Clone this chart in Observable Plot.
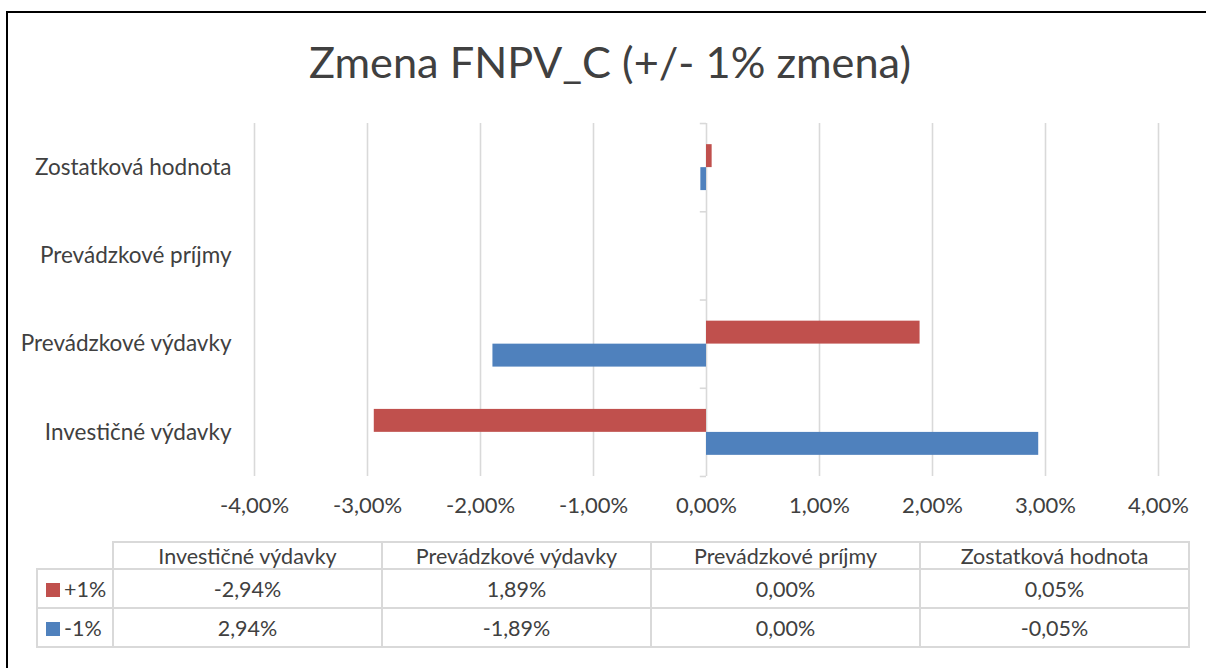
<!DOCTYPE html>
<html>
<head>
<meta charset="utf-8">
<script src="https://cdn.jsdelivr.net/npm/d3@7"></script>
<script src="https://cdn.jsdelivr.net/npm/@observablehq/plot@0.6"></script>
<style>
  html, body { margin: 0; padding: 0; background: #fff; }
  body { width: 1206px; height: 668px; position: relative; overflow: hidden; font-family: Lato, "Open Sans", sans-serif; color: #404040; }
  #frame { position: absolute; left: 6px; top: 11px; right: -10px; bottom: -10px; border-left: 2.5px solid #000; border-top: 2.5px solid #000; }
  #title { position: absolute; left: 0; top: 33px; width: 1220px; text-align: center; font-size: 44px; line-height: 56px; color: #404040; white-space: nowrap; }
  #chart { position: absolute; left: 0; top: 115px; }
  #tbl { position: absolute; left: 36px; top: 541px; border-collapse: collapse; font-size: 21.5px; color: #404040; }
  #tbl td { border: 2px solid #d9d9d9; text-align: center; padding: 0; }
  #tbl tr.head td { height: 25px; line-height: 24px; }
  #tbl tr.row td { height: 37px; }
  #tbl td.blank { border: none; border-right: 2px solid #d9d9d9; border-bottom: 2px solid #d9d9d9; }
  #tbl td.leg { text-align: left; padding-left: 8px; width: 66px; white-space: nowrap; }
  #tbl td.val { width: 267px; }
  .sw { display: inline-block; width: 14px; height: 14px; margin-right: 4px; vertical-align: 0px; }
</style>
</head>
<body>
<div id="frame"></div>
<div id="title"></div>
<div id="chart"></div>
<table id="tbl"></table>
<script>
const title = "Zmena FNPV_C (+/- 1% zmena)";
const categories = ["Investičné výdavky", "Prevádzkové výdavky", "Prevádzkové príjmy", "Zostatková hodnota"];
const seriesNames = ["+1%", "-1%"];
const plusValues = [-2.94, 1.89, 0.00, 0.05];
const minusValues = [2.94, -1.89, 0.00, -0.05];
const xTicks = [-4, -3, -2, -1, 0, 1, 2, 3, 4];
const colors = ["#C0504D", "#4F81BD"];

const fmt = v => v.toFixed(2).replace(".", ",") + "%";

// title, fitted to reference width
const tEl = document.getElementById("title");
tEl.textContent = title;
(function fit() {
  const c = document.createElement("canvas").getContext("2d");
  c.font = "44px Lato";
  const w = c.measureText(title).width;
  const size = 44 * 602 / w;
  tEl.style.fontSize = size.toFixed(1) + "px";
})();

const plusData = categories.map((c, i) => ({category: c, value: plusValues[i]}));
const minusData = categories.map((c, i) => ({category: c, value: minusValues[i]}));
const yDomain = categories.slice().reverse();

const H = 410;
const plot = Plot.plot({
  width: 1206,
  height: H,
  marginLeft: 254,
  marginRight: 48,
  marginTop: 8,
  marginBottom: 49,
  style: {fontFamily: "Lato, 'Open Sans', sans-serif", fontSize: "22px", color: "#404040", background: "transparent"},
  x: {domain: [-4, 4], ticks: xTicks, tickFormat: fmt, tickSize: 0, tickPadding: 21, label: null},
  y: {domain: yDomain, paddingInner: 0.74, paddingOuter: 0.37, round: false, tickSize: 0, tickPadding: 23, label: null},
  marks: [
    Plot.gridX(xTicks, {stroke: "#d9d9d9", strokeOpacity: 1, strokeWidth: 1.6}),
    Plot.ruleY(categories, {y: d => d, x1: -0.055, x2: 0, dy: -44.1, stroke: "#d9d9d9", strokeWidth: 1.6}),
    Plot.ruleY([categories[0]], {y: d => d, x1: -0.055, x2: 0, dy: 44.1, stroke: "#d9d9d9", strokeWidth: 1.6}),
    Plot.barX(plusData, {x: "value", y: "category", fill: colors[0], dy: -11.5}),
    Plot.barX(minusData, {x: "value", y: "category", fill: colors[1], dy: 11.5})
  ]
});
plot.querySelectorAll("[aria-label='y-axis tick label'] text, [aria-label='x-axis tick label'] text").forEach(t => t.setAttribute("fill", "#404040"));
plot.querySelectorAll("[aria-label='y-axis tick label']").forEach(g => g.setAttribute("font-size", "22.5px"));
document.getElementById("chart").appendChild(plot);

// data table
const tbl = document.getElementById("tbl");
let html = "<tr class='head'><td class='blank'></td>" + categories.map(c => `<td class='val'>${c}</td>`).join("") + "</tr>";
[plusValues, minusValues].forEach((vals, si) => {
  html += `<tr class='row'><td class='leg'><span class='sw' style='background:${colors[si]}'></span>${seriesNames[si]}</td>` +
    vals.map(v => `<td class='val'>${fmt(v)}</td>`).join("") + "</tr>";
});
tbl.innerHTML = html;
</script>
</body>
</html>
